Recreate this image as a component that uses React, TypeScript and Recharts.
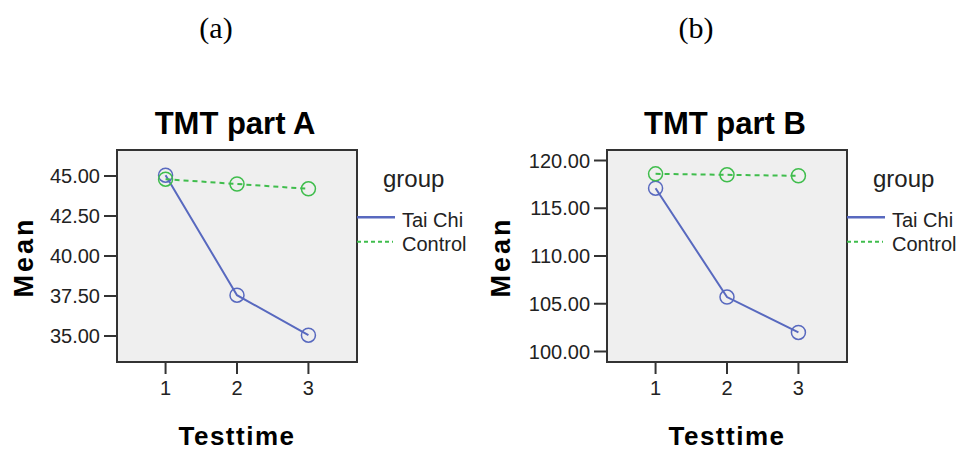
import { LineChart, Line, XAxis, YAxis, ReferenceArea } from 'recharts'

// === DADOS ===
const testTimes = [1, 2, 3]

const tmtATaiChi = [45.05, 37.55, 35.05]
const tmtAControl = [44.8, 44.5, 44.2]
const tmtATicks = [35, 37.5, 40, 42.5, 45]

const tmtBTaiChi = [117.1, 105.7, 102.0]
const tmtBControl = [118.6, 118.5, 118.4]
const tmtBTicks = [100, 105, 110, 115, 120]

const groupNames = ['Tai Chi', 'Control']

const BLUE = '#5869bf'
const GREEN = '#3fbd4c'
const SANS = '"Liberation Sans", Arial, sans-serif'
const X_DOMAIN: [number, number] = [0.32, 3.68]

function Panel({ left, title, letter, taichi, control, ticks, yDomain, meanX }: any) {
  const data = testTimes.map((t, i) => ({ time: t, taichi: taichi[i], control: control[i] }))

  return (
    <div style={{ position: 'absolute', left, top: 0, width: 480, height: 452 }}>
      {/* letra do painel */}
      <div style={{
        position: 'absolute', left: 216 - 50 + (letter === '(b)' ? -10 : 0), top: 13, width: 100,
        textAlign: 'center', fontFamily: '"Liberation Serif", "Times New Roman", serif',
        fontSize: 30, lineHeight: '30px', color: '#000',
      }}>{letter}</div>

      {/* título */}
      <div style={{
        position: 'absolute', left: 235 - 120, top: 108, width: 240, textAlign: 'center',
        fontFamily: SANS, fontWeight: 'bold', fontSize: 31, lineHeight: '31px', color: '#000',
      }}>{title}</div>

      <LineChart width={480} height={452} data={data}
        margin={{ top: 150, right: 123, bottom: 0, left: 0 }}
        style={{ position: 'absolute', left: 0, top: 0 }}>
        <ReferenceArea x1={X_DOMAIN[0]} x2={X_DOMAIN[1]} y1={yDomain[0]} y2={yDomain[1]}
          fill="#efefef" fillOpacity={1} stroke="#333" strokeWidth={2} />
        <XAxis dataKey="time" type="number" domain={X_DOMAIN} ticks={testTimes}
          allowDataOverflow height={90} axisLine={false}
          tickLine={{ stroke: '#333', strokeWidth: 2 }} tickSize={12} tickMargin={7}
          tick={{ fill: '#222', fontSize: 20, fontFamily: SANS }} />
        <YAxis type="number" domain={yDomain} ticks={ticks} allowDataOverflow width={117}
          axisLine={false} tickLine={{ stroke: '#333', strokeWidth: 2 }} tickSize={13} tickMargin={4}
          tickFormatter={(v: number) => v.toFixed(2)}
          tick={{ fill: '#222', fontSize: 20, fontFamily: SANS }} />
        <Line type="linear" dataKey="taichi" stroke={BLUE} strokeWidth={2}
          dot={{ r: 7, fill: 'none', stroke: BLUE, strokeWidth: 1.5 }} isAnimationActive={false} />
        <Line type="linear" dataKey="control" stroke={GREEN} strokeWidth={2} strokeDasharray="5 4"
          dot={{ r: 7, fill: 'none', stroke: GREEN, strokeWidth: 1.5, strokeDasharray: 'none' }}
          isAnimationActive={false} />
      </LineChart>

      {/* eixo Y */}
      <div style={{
        position: 'absolute', left: meanX - 60, top: 257 - 13, width: 120, height: 26,
        textAlign: 'center', fontFamily: SANS, fontWeight: 'bold', fontSize: 27, lineHeight: '26px',
        letterSpacing: 3, transform: 'rotate(-90deg)', color: '#000',
      }}>Mean</div>

      {/* eixo X */}
      <div style={{
        position: 'absolute', left: 237 - 100, top: 423, width: 200, textAlign: 'center',
        fontFamily: SANS, fontWeight: 'bold', fontSize: 26, lineHeight: '26px',
        letterSpacing: 1.5, color: '#000',
      }}>Testtime</div>

      {/* legenda */}
      <div style={{
        position: 'absolute', left: 383, top: 167, fontFamily: SANS, fontSize: 24,
        lineHeight: '24px', color: '#222',
      }}>group</div>
      <svg style={{ position: 'absolute', left: 357, top: 205, overflow: 'visible' }} width={40} height={45}>
        <line x1={0} x2={38} y1={12.3} y2={12.3} stroke={BLUE} strokeWidth={2.5} />
        <line x1={0} x2={36} y1={36.7} y2={36.7} stroke={GREEN} strokeWidth={2} strokeDasharray="4 3" />
      </svg>
      {groupNames.map((g, i) => (
        <div key={g} style={{
          position: 'absolute', left: 402, top: 210 + i * 24, fontFamily: SANS, fontSize: 20,
          lineHeight: '20px', color: '#222', whiteSpace: 'nowrap',
        }}>{g}</div>
      ))}
    </div>
  )
}

export default function App() {
  return (
    <div style={{ position: 'absolute', left: 0, top: 0, width: 963, height: 452, background: '#fff' }}>
      <Panel left={0} title="TMT part A" letter="(a)" taichi={tmtATaiChi} control={tmtAControl}
        ticks={tmtATicks} yDomain={[33.375, 46.625]} meanX={24} />
      <Panel left={490} title="TMT part B" letter="(b)" taichi={tmtBTaiChi} control={tmtBControl}
        ticks={tmtBTicks} yDomain={[98.9, 121.1]} meanX={11} />
    </div>
  )
}
